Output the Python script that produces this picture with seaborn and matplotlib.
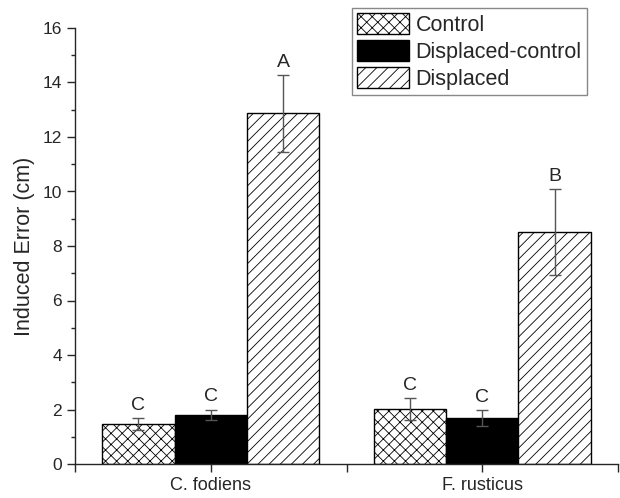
import numpy as np
import pandas as pd
import matplotlib
matplotlib.use('Agg')
import matplotlib.pyplot as plt
from matplotlib.patches import Patch
from matplotlib.ticker import MultipleLocator, FixedLocator
import seaborn as sns

# data
species = ['C. fodiens', 'F. rusticus']
groups = ['Control', 'Displaced-control', 'Displaced']
control = [1.47, 2.02]
displaced_control = [1.80, 1.69]
displaced = [12.87, 8.50]
control_err = [0.22, 0.40]
displaced_control_err = [0.20, 0.30]
displaced_err = [1.42, 1.58]
letters = {'Control': ['C', 'C'], 'Displaced-control': ['C', 'C'], 'Displaced': ['A', 'B']}

means = [control, displaced_control, displaced]
errs = [control_err, displaced_control_err, displaced_err]

df = pd.DataFrame({
    'species': species * 3,
    'group': np.repeat(groups, 2),
    'value': control + displaced_control + displaced,
})

sns.set_style('ticks')
plt.rcParams['font.family'] = ['Liberation Sans', 'DejaVu Sans']
plt.rcParams['hatch.linewidth'] = 0.6
plt.rcParams['hatch.color'] = '#555555'

fig = plt.figure(figsize=(6.2, 4.98), dpi=100)
ax = fig.add_axes([75 / 620, 34 / 498, 543 / 620, 436 / 498])

faces = ['white', 'black', 'white']
hatches = ['xxx', '', '///']

sns.barplot(data=df, x='species', y='value', hue='group', order=species,
            hue_order=groups, errorbar=None, width=0.8, ax=ax,
            palette=faces, edgecolor='black', linewidth=1.0, legend=False)

bar_containers = list(ax.containers)
for i, cont in enumerate(bar_containers):
    for j, bar in enumerate(cont):
        bar.set_facecolor(faces[i])
        bar.set_hatch(hatches[i])
        bar.set_edgecolor('black')
        cx = bar.get_x() + bar.get_width() / 2
        ax.errorbar(cx, means[i][j], yerr=errs[i][j], color='#555555',
                    elinewidth=1.0, capsize=4, capthick=1.0, zorder=5)
        ax.text(cx, means[i][j] + errs[i][j] + 0.15, letters[groups[i]][j],
                ha='center', va='bottom', fontsize=14)

ax.set_xlim(-0.5, 1.5)
ax.set_ylim(0, 16)
ax.set_xlabel('')
ax.set_ylabel('Induced Error (cm)', fontsize=15.5, labelpad=5)
ax.yaxis.set_major_locator(MultipleLocator(2))
ax.yaxis.set_minor_locator(MultipleLocator(1))
ax.xaxis.set_minor_locator(FixedLocator([-0.5, 0.5, 1.5]))
ax.tick_params(axis='both', which='major', direction='out', length=6,
               width=1, labelsize=12.5)
ax.tick_params(axis='x', which='minor', direction='out', length=6, width=1)
ax.tick_params(axis='y', which='minor', direction='out', length=3, width=1)
ax.tick_params(axis='x', labelsize=13)
for s in ['top', 'right']:
    ax.spines[s].set_visible(False)
for s in ['left', 'bottom']:
    ax.spines[s].set_linewidth(1.0)

handles = [Patch(facecolor=faces[i], edgecolor='black', hatch=hatches[i],
                 label=groups[i]) for i in range(3)]
leg = ax.legend(handles=handles, loc='upper right', bbox_to_anchor=(0.943, 1.046),
                borderaxespad=0, fontsize=15.5, handlelength=2.4, handleheight=1.1,
                labelspacing=0.2, handletextpad=0.3, borderpad=0.25,
                fancybox=False, framealpha=1)
leg.get_frame().set_edgecolor('#888888')
leg.get_frame().set_linewidth(1.0)

fig.savefig('out.png', dpi=100)
